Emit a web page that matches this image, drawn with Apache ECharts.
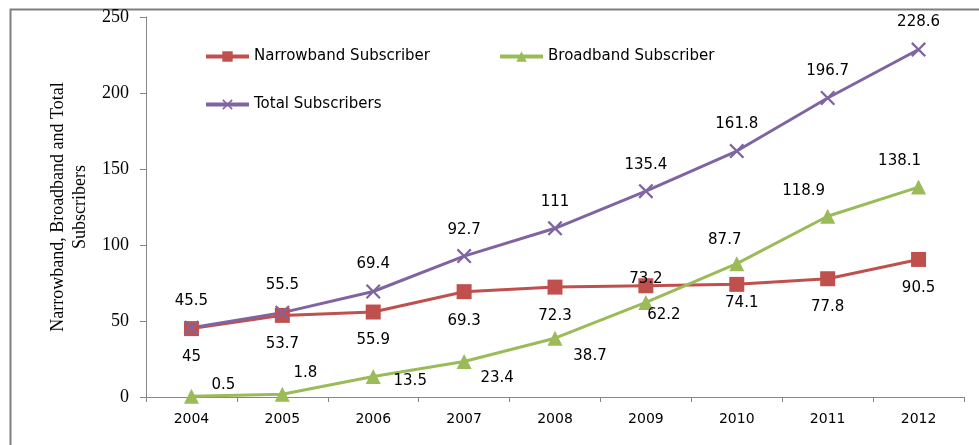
<!DOCTYPE html>
<html>
<head>
<meta charset="utf-8">
<script src="https://cdn.jsdelivr.net/npm/echarts@6/dist/echarts.min.js"></script>
<style>
  html, body { margin: 0; padding: 0; background: #fff; }
  #chart { width: 979px; height: 445px; }
</style>
</head>
<body>
<div id="chart"></div>
<script>
var years = ['2004', '2005', '2006', '2007', '2008', '2009', '2010', '2011', '2012'];
var narrowband = [45, 53.7, 55.9, 69.3, 72.3, 73.2, 74.1, 77.8, 90.5];
var broadband = [0.5, 1.8, 13.5, 23.4, 38.7, 62.2, 87.7, 118.9, 138.1];
var total = [45.5, 55.5, 69.4, 92.7, 111, 135.4, 161.8, 196.7, 228.6];

// label offsets from the marker centre, per point
var narrowOffsets = [[0, 29], [0, 29], [0, 28], [0, 29], [0, 29], [0, -7], [5, 19], [0, 28], [0, 29]];
var broadOffsets = [[32, -11], [23, -21], [37, 5], [33, 17], [35, 18], [18, 13], [-12, -24], [-24, -25], [-19, -26]];
var totalOffsets = [[0, -27], [0, -28], [0, -27], [0, -26], [0, -26], [0, -26], [0, -27], [0, -27], [0, -27]];

var RED = '#C0504D', GREEN = '#9BBB59', PURPLE = '#8064A2';
var CROSS = 'path://M0,1.5 L1.5,0 L7,5.5 L12.5,0 L14,1.5 L8.5,7 L14,12.5 L12.5,14 L7,8.5 L1.5,14 L0,12.5 L5.5,7 Z';

function withLabels(values, offsets) {
    return values.map(function (v, i) {
        return { value: v, label: { offset: offsets[i] } };
    });
}

var labelStyle = {
    show: true,
    position: 'inside',
    color: '#000',
    fontFamily: 'DejaVu Sans',
    fontSize: 15
};

function legendAt(name, left, top) {
    return {
        data: [name],
        left: left,
        top: top,
        itemWidth: 43,
        itemHeight: 13,
        itemGap: 5,
        lineStyle: { width: 4 },
        textStyle: { fontFamily: 'DejaVu Sans', fontSize: 15, color: '#000' }
    };
}

var chart = echarts.init(document.getElementById('chart'));
chart.setOption({
    animation: false,
    backgroundColor: '#fff',
    graphic: [{
        type: 'rect',
        left: 8, top: 7,
        shape: { width: 1000, height: 500 },
        style: { fill: 'none', stroke: '#7f7f7f', lineWidth: 2 },
        silent: true
    }],
    legend: [
        legendAt('Narrowband Subscriber', 199, 44),
        legendAt('Broadband Subscriber', 493, 44),
        legendAt('Total Subscribers', 199, 92)
    ],
    grid: { left: 146, right: 15, top: 17, bottom: 48 },
    xAxis: {
        type: 'category',
        data: years,
        boundaryGap: true,
        axisLine: { lineStyle: { color: '#868686' } },
        axisTick: { show: true, length: 5, lineStyle: { color: '#868686' } },
        axisLabel: { color: '#000', fontFamily: 'DejaVu Sans', fontSize: 14, margin: 15 },
        splitLine: { show: false }
    },
    yAxis: {
        type: 'value',
        min: 0, max: 250, interval: 50,
        name: 'Narrowband, Broadband and Total\nSubscribers',
        nameLocation: 'middle',
        nameGap: 46,
        nameTextStyle: { fontFamily: 'Liberation Serif', fontSize: 18, color: '#000', lineHeight: 22 },
        axisLine: { show: true, lineStyle: { color: '#868686' } },
        axisTick: { show: true, length: 6, lineStyle: { color: '#868686' } },
        axisLabel: { color: '#000', fontFamily: 'Liberation Serif', fontSize: 18, margin: 17 },
        splitLine: { show: false }
    },
    series: [{
        name: 'Narrowband Subscriber',
        type: 'line',
        data: withLabels(narrowband, narrowOffsets),
        symbol: 'rect', symbolSize: 15,
        lineStyle: { color: RED, width: 3 },
        itemStyle: { color: RED },
        label: labelStyle
    }, {
        name: 'Broadband Subscriber',
        type: 'line',
        data: withLabels(broadband, broadOffsets),
        symbol: 'triangle', symbolSize: 15,
        lineStyle: { color: GREEN, width: 3 },
        itemStyle: { color: GREEN },
        label: labelStyle
    }, {
        name: 'Total Subscribers',
        type: 'line',
        data: withLabels(total, totalOffsets),
        symbol: CROSS, symbolSize: 15,
        lineStyle: { color: PURPLE, width: 3 },
        itemStyle: { color: PURPLE },
        label: labelStyle
    }]
});
</script>
</body>
</html>
